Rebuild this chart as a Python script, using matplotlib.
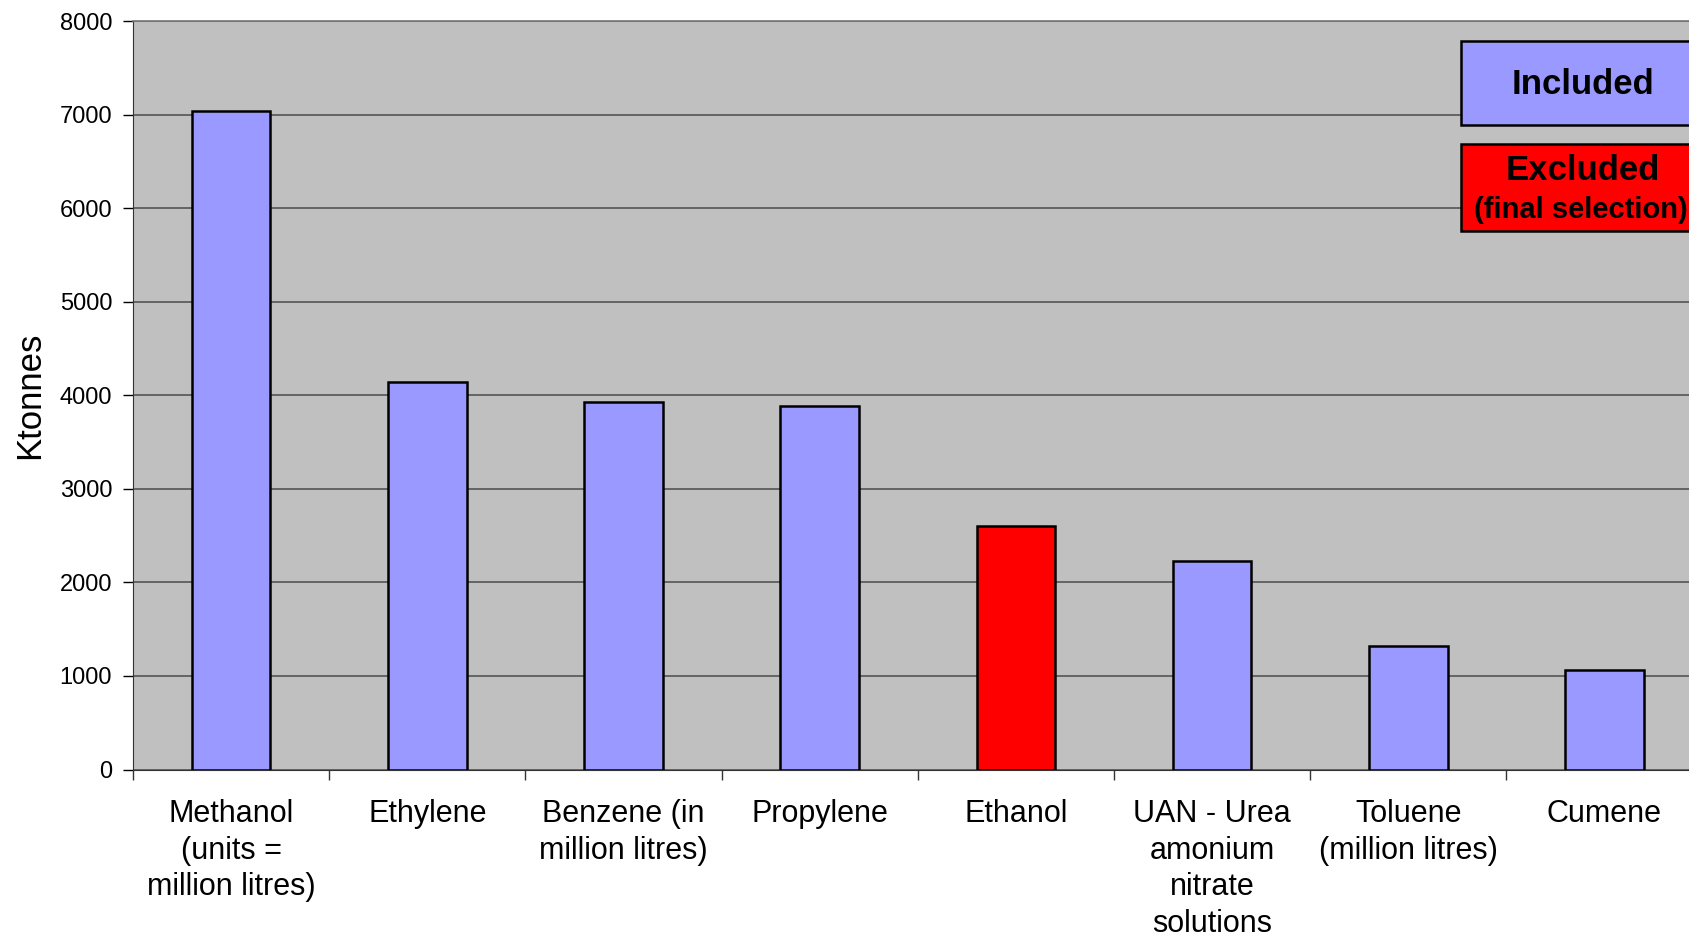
import matplotlib
matplotlib.use("Agg")
import matplotlib.pyplot as plt
from matplotlib.patches import Rectangle

categories = ["Methanol\n(units =\nmillion litres)", "Ethylene", "Benzene (in\nmillion litres)",
              "Propylene", "Ethanol", "UAN - Urea\namonium\nnitrate\nsolutions",
              "Toluene\n(million litres)", "Cumene"]
values = [7040, 4140, 3930, 3885, 2605, 2225, 1325, 1060]
status = ["Included", "Included", "Included", "Included", "Excluded", "Included", "Included", "Included"]
yticks = [0, 1000, 2000, 3000, 4000, 5000, 6000, 7000, 8000]

colors = {"Included": "#9999FF", "Excluded": "#FF0000"}

plt.rcParams['font.family'] = ['Liberation Sans', 'DejaVu Sans']

W, H = 1690, 933
fig = plt.figure(figsize=(W / 100, H / 100), dpi=100)
ax_left, ax_bottom, ax_top = 133 / W, 1 - 769.5 / H, 1 - 21 / H
ax_width = 8 * 196.2 / W
ax = fig.add_axes([ax_left, ax_bottom, ax_width, ax_top - ax_bottom])
ax.set_facecolor("#C0C0C0")

x = list(range(len(categories)))
ax.bar(x, values, width=0.40, color=[colors[s] for s in status],
       edgecolor="black", linewidth=1.8, zorder=3)

ax.set_xlim(-0.5, len(categories) - 0.5)
ax.set_ylim(0, 8000)
ax.set_yticks(yticks)
ax.set_yticklabels([str(v) for v in yticks], fontsize=17)
ax.yaxis.grid(True, color="#555555", linewidth=1.2, zorder=1)
ax.set_axisbelow(True)

# category boundaries as major ticks, labels as minor ticks
ax.set_xticks([i - 0.5 for i in range(len(categories) + 1)])
ax.set_xticklabels([])
ax.set_xticks(x, minor=True)
ax.set_xticklabels(categories, minor=True, fontsize=22, linespacing=1.3)
ax.tick_params(axis="x", which="minor", length=0, pad=21)
ax.tick_params(axis="x", which="major", length=7, width=1, color="#333333")
ax.tick_params(axis="y", length=7, width=1, pad=8)

for s in ["top", "right"]:
    ax.spines[s].set_color("#777777")
    ax.spines[s].set_linewidth(1.2)
ax.spines["left"].set_color("#333333")
ax.spines["bottom"].set_color("#333333")

ax.set_ylabel("Ktonnes", fontsize=25)
ax.yaxis.set_label_coords(-(133 - 46) / (ax_width * W), 0.5)

# legend-like boxes
def box(x0, y0, x1, y1, color):
    r = Rectangle((x0 / W, 1 - y1 / H), (x1 - x0) / W, (y1 - y0) / H,
                  transform=fig.transFigure, facecolor=color, edgecolor="black",
                  linewidth=1.8, clip_on=False, zorder=5)
    fig.patches.append(r)

box(1461, 41, 1706, 125, colors["Included"])
box(1461, 144, 1706, 231, colors["Excluded"])
fig.text(1583 / W, 1 - 85 / H, "Included", fontsize=25, fontweight="bold",
         ha="center", va="center", zorder=6)
fig.text(1583 / W, 1 - 171 / H, "Excluded", fontsize=25, fontweight="bold",
         ha="center", va="center", zorder=6)
fig.text(1581 / W, 1 - 210 / H, "(final selection)", fontsize=21, fontweight="bold",
         ha="center", va="center", zorder=6)

fig.savefig("out.png", dpi=100)
